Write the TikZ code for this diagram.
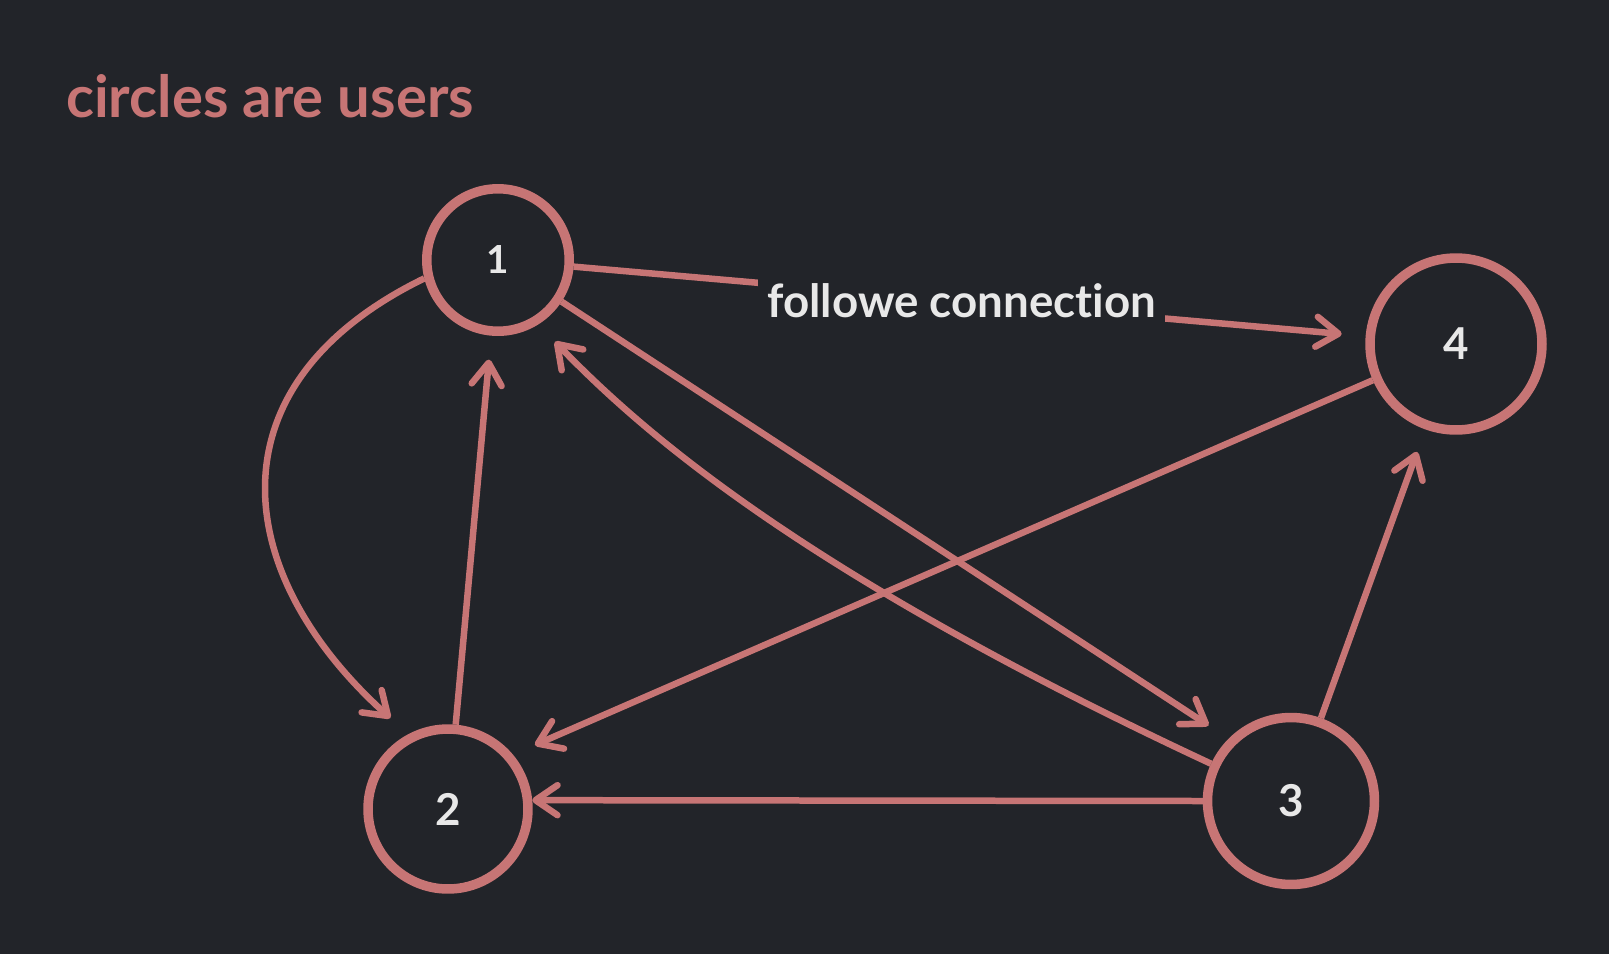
\documentclass[tikz,border=0pt]{standalone}
\usepackage{fontspec}
\setmainfont{Lato}[Ligatures=NoCommon]
\usepackage{tikz}
\usetikzlibrary{arrows.meta,calc}
\definecolor{bg}{RGB}{34,36,41}
\definecolor{rose}{RGB}{199,117,117}
\definecolor{chalk}{RGB}{232,232,232}

\begin{document}
\begin{tikzpicture}[x=0.02cm, y=0.02cm,
    >={Straight Barb[length=0.44cm, width=0.6cm, round]},
    user/.style={circle, draw=rose, line width=0.19cm, inner sep=0pt, text=chalk, font=\fontsize{25}{25}\selectfont\bfseries},
    link/.style={->, draw=rose, line width=0.13cm, shorten >=0.48cm},
    flow/.style={fill=bg, text=chalk, inner xsep=0.18cm, font=\fontsize{26}{26}\selectfont\bfseries}]
    \fill[bg] (0,0) rectangle (1609,-954);
    \node[anchor=west, text=rose, font=\fontsize{33}{33}\selectfont\bfseries] (title) at (60,-96) {circles are users};

    % users
    \node[user, minimum size=2.85cm, font=\fontsize{22}{22}\selectfont\bfseries] (u1) at (498,-260) {1};
    \node[user, minimum size=3.2cm] (u2) at (448,-809) {2};
    \node[user, minimum size=3.34cm] (u3) at (1291,-801) {3};
    \node[user, minimum size=3.44cm] (u4) at (1456,-344) {4};

    % follows
    \draw[link] (u1) -- node[flow, pos=0.49] {followe connection} (u4);
    \draw[link] (u1.194) to[out=206, in=138, looseness=1.35] (u2.118);
    \draw[link] (u2) -- (u1);
    \draw[link] (u1) -- (u3.north west);
    \draw[link] (u3.155) to[out=155, in=-46, out distance=9cm, in distance=3cm] (u1.-58);
    \draw[link] (u4) -- (u2.40);
    \draw[link, shorten >=0pt] (u3.west) -- (u2.6);
    \draw[link] (u3) -- (u4);
\end{tikzpicture}
\end{document}
